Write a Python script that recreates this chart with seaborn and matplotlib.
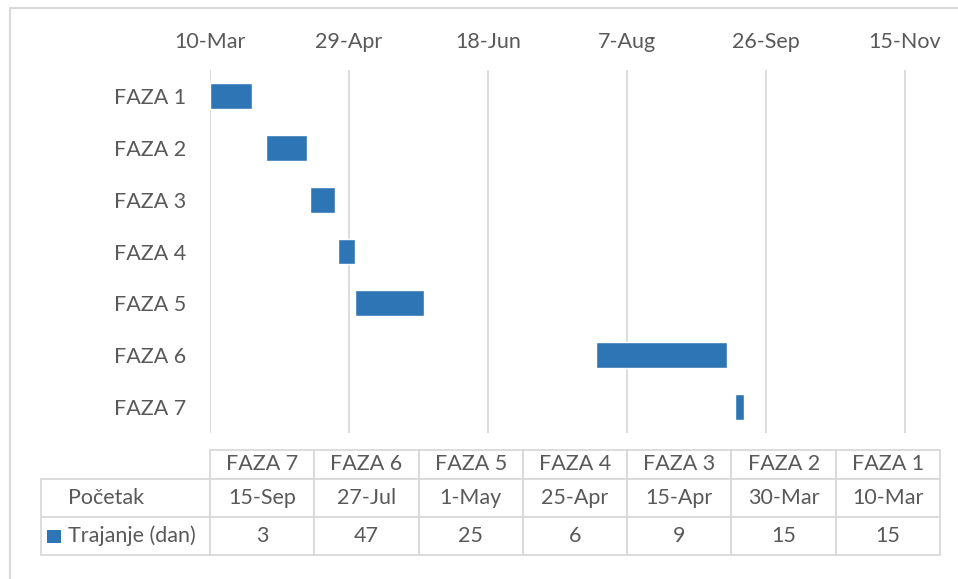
import pandas as pd
import numpy as np
import matplotlib
matplotlib.use("Agg")
import matplotlib.pyplot as plt
import matplotlib.patches as mpatches
import seaborn as sns

# Chart data
phases = ['FAZA 1', 'FAZA 2', 'FAZA 3', 'FAZA 4', 'FAZA 5', 'FAZA 6', 'FAZA 7']
starts = ['10-Mar', '30-Mar', '15-Apr', '25-Apr', '1-May', '27-Jul', '15-Sep']
durations = [15, 15, 9, 6, 25, 47, 3]
tick_labels = ['10-Mar', '29-Apr', '18-Jun', '7-Aug', '26-Sep', '15-Nov']
row_labels = ['Početak', 'Trajanje (dan)']

YEAR = '2019'
BLUE = '#2E75B6'
GRID = '#d9d9d9'
TEXT = '#595959'

def to_days(labels, base):
    d = pd.to_datetime([s + '-' + YEAR for s in labels], format='%d-%b-%Y')
    return np.array((d - base).days, dtype=float)

base = pd.to_datetime(starts[0] + '-' + YEAR, format='%d-%b-%Y')
df = pd.DataFrame({'Faza': phases, 'Trajanje': durations})
df['Offset'] = to_days(starts, base)
ticks = to_days(tick_labels, base)

sns.set_theme(style='white')
plt.rcParams['font.family'] = ['Lato', 'DejaVu Sans']
plt.rcParams['text.color'] = TEXT

W, H = 958, 579
AX_W, AX_H = 730, 363
fig = plt.figure(figsize=(W / 100, H / 100), dpi=100)
ax = fig.add_axes([210 / W, 1 - 433 / H, AX_W / W, AX_H / H])

sns.barplot(data=df, y='Faza', x='Trajanje', orient='y', color=BLUE,
            saturation=1, width=0.5, left=df['Offset'].values, ax=ax, zorder=3)

# axis: dates on top, gridlines every 50 days
span = (ticks[-1] - ticks[0]) * 730 / 695
ax.set_xlim(ticks[0], ticks[0] + span)
ax.set_xticks(ticks)
ax.set_xticklabels(tick_labels)
ax.xaxis.tick_top()
ax.grid(axis='x', color=GRID, lw=1.3, zorder=0)
ax.grid(axis='y', visible=False)
ax.tick_params(axis='x', length=0, pad=13, labelsize=15.5, colors=TEXT)
ax.tick_params(axis='y', length=0, pad=17, labelsize=15.5, colors=TEXT)
ax.set_xlabel('')
ax.set_ylabel('')
sns.despine(ax=ax, left=True, bottom=True)

# data table below the chart (cell sizes in axes fractions, bbox = data cells)
col_labels = phases[::-1]
cell_text = [starts[::-1], [str(v) for v in durations[::-1]]]
ncol = len(col_labels)
tbl = ax.table(cellText=cell_text, rowLabels=row_labels, colLabels=col_labels,
               cellLoc='center', rowLoc='left',
               colWidths=[1 / ncol] * ncol,
               bbox=[0, (433 - 555) / AX_H, 1, 105 / AX_H])
tbl.auto_set_font_size(False)
tbl.set_fontsize(15.5)
for (r, c), cell in tbl.get_celld().items():
    cell.set_edgecolor(GRID)
    cell.set_linewidth(1.3)
    cell.get_text().set_color(TEXT)
    cell.set_height((29 if r == 0 else 38) / AX_H)
    if c == -1:
        cell.set_width(170 / AX_W)
        cell.PAD = 0.16

# legend key in the table
fig.patches.append(mpatches.Rectangle((47 / W, 1 - 543 / H), 14 / W, 13 / H,
                                      transform=fig.transFigure, facecolor=BLUE,
                                      edgecolor='none'))

# outer chart border
fig.patches.append(mpatches.Rectangle((10 / W, -0.1), 1.2, 1.1 - 8 / H,
                                      transform=fig.transFigure, facecolor='none',
                                      edgecolor=GRID, lw=1.5))

fig.savefig('out.png', dpi=100)
